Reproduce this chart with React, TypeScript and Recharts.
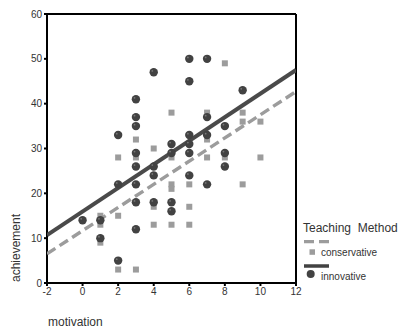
import { ScatterChart, Scatter, XAxis, YAxis, ReferenceLine } from 'recharts';

const xTicks = [-2, 0, 2, 4, 6, 8, 10, 12];
const yTicks = [0, 10, 20, 30, 40, 50, 60];

const conservativeMotivation = [1, 1, 1, 2, 2, 2, 3, 3, 3, 4, 4, 4, 4, 5, 5, 5, 5, 5, 6, 6, 6, 7, 7, 7, 8, 8, 9, 9, 9, 10, 10];
const conservativeAchievement = [15, 13, 9, 28, 15, 3, 32, 28, 3, 30, 24, 17, 13, 38, 28, 22, 21, 13, 22, 17, 13, 38, 32, 28, 49, 28, 38, 36, 22, 36, 28];

const innovativeMotivation = [0, 1, 1, 2, 2, 2, 3, 3, 3, 3, 3, 3, 3, 3, 4, 4, 4, 4, 5, 5, 5, 5, 6, 6, 6, 6, 6, 6, 7, 7, 7, 7, 8, 8, 8, 9];
const innovativeAchievement = [14, 14, 10, 33, 22, 5, 41, 37, 35, 29, 26, 22, 18, 12, 47, 26, 24, 18, 31, 29, 18, 16, 50, 45, 33, 31, 29, 24, 50, 37, 33, 22, 35, 29, 26, 43];

// fitted lines, end points
const fitMotivation = [-2, 12];
const conservativeFit = [6.5, 42.7];
const innovativeFit = [10.7, 47.5];

const zip = (xs: number[], ys: number[]) => xs.map((x, i) => ({ x, y: ys[i] }));

const conservative = zip(conservativeMotivation, conservativeAchievement);
const innovative = zip(innovativeMotivation, innovativeAchievement);
const conservativeLine = zip(fitMotivation, conservativeFit);
const innovativeLine = zip(fitMotivation, innovativeFit);

const font = 'Liberation Sans, Arial, sans-serif';
const dark = '#424242';
const grey = '#9c9c9c';

const Square = (props: any) => (
  <rect x={props.cx - 3} y={props.cy - 3} width={6} height={6} fill={grey} />
);

const Dot = (props: any) => (
  <g>
    <circle cx={props.cx} cy={props.cy} r={4.2} fill={dark} />
    <circle cx={props.cx - 1.4} cy={props.cy - 1.4} r={0.9} fill="#777" />
  </g>
);

const NoShape = () => <g />;

const LegendBox = () => (
  <svg width={104} height={72} style={{ position: 'absolute', left: 300, top: 215, fontFamily: font }}>
    <text x={3} y={17} fontSize={12} fill="#333" style={{ whiteSpace: 'pre' }}>Teaching  Method</text>
    <line x1={4} y1={26.7} x2={29} y2={26.7} stroke={grey} strokeWidth={3.2} strokeDasharray="10 5" />
    <rect x={9.5} y={34.3} width={5.5} height={5.5} fill={grey} />
    <text x={21} y={41} fontSize={10} fill="#333">conservative</text>
    <line x1={4} y1={51} x2={29} y2={51} stroke={dark} strokeWidth={3.5} />
    <circle cx={10.7} cy={59} r={4} fill={dark} />
    <text x={21} y={65} fontSize={10} fill="#333">innovative</text>
  </svg>
);

export default function App() {
  return (
    <div style={{ position: 'absolute', left: 0, top: 0, width: 404, height: 329, background: '#fff' }}>
      <ScatterChart width={404} height={329} margin={{ top: 14, right: 108, bottom: 26, left: 7 }}>
        <XAxis
          type="number"
          dataKey="x"
          domain={[-2, 12]}
          ticks={xTicks}
          allowDataOverflow
          height={20}
          axisLine={{ stroke: '#000', strokeWidth: 2 }}
          tickLine={{ stroke: '#000', strokeWidth: 2 }}
          tickSize={3}
          tick={{ fontSize: 10, fill: '#333', fontFamily: font }}
          label={{ value: 'motivation', content: () => (
            <text x={48} y={326} fontSize={12} fill="#333" fontFamily={font}>motivation</text>
          ) }}
        />
        <YAxis
          type="number"
          dataKey="y"
          domain={[0, 60]}
          ticks={yTicks}
          allowDataOverflow
          width={40}
          axisLine={{ stroke: '#000', strokeWidth: 2 }}
          tickLine={{ stroke: '#000', strokeWidth: 2 }}
          tickSize={3}
          tick={{ fontSize: 10, fill: '#333', fontFamily: font }}
          label={{ value: 'achievement', content: () => (
            <text x={20} y={248} fontSize={12} fill="#333" fontFamily={font} textAnchor="middle" transform="rotate(-90 20 248)">achievement</text>
          ) }}
        />
        <ReferenceLine y={60} stroke="#000" strokeWidth={2} />
        <ReferenceLine x={12} stroke="#000" strokeWidth={2} />
        <Scatter
          data={conservativeLine}
          line={{ stroke: grey, strokeWidth: 3.4, strokeDasharray: '10 5' }}
          shape={NoShape}
          legendType="none"
          isAnimationActive={false}
        />
        <Scatter
          data={innovativeLine}
          line={{ stroke: '#4a4a4a', strokeWidth: 4 }}
          shape={NoShape}
          legendType="none"
          isAnimationActive={false}
        />
        <Scatter name="conservative" data={conservative} shape={Square} isAnimationActive={false} />
        <Scatter name="innovative" data={innovative} shape={Dot} isAnimationActive={false} />
      </ScatterChart>
      <LegendBox />
    </div>
  );
}
